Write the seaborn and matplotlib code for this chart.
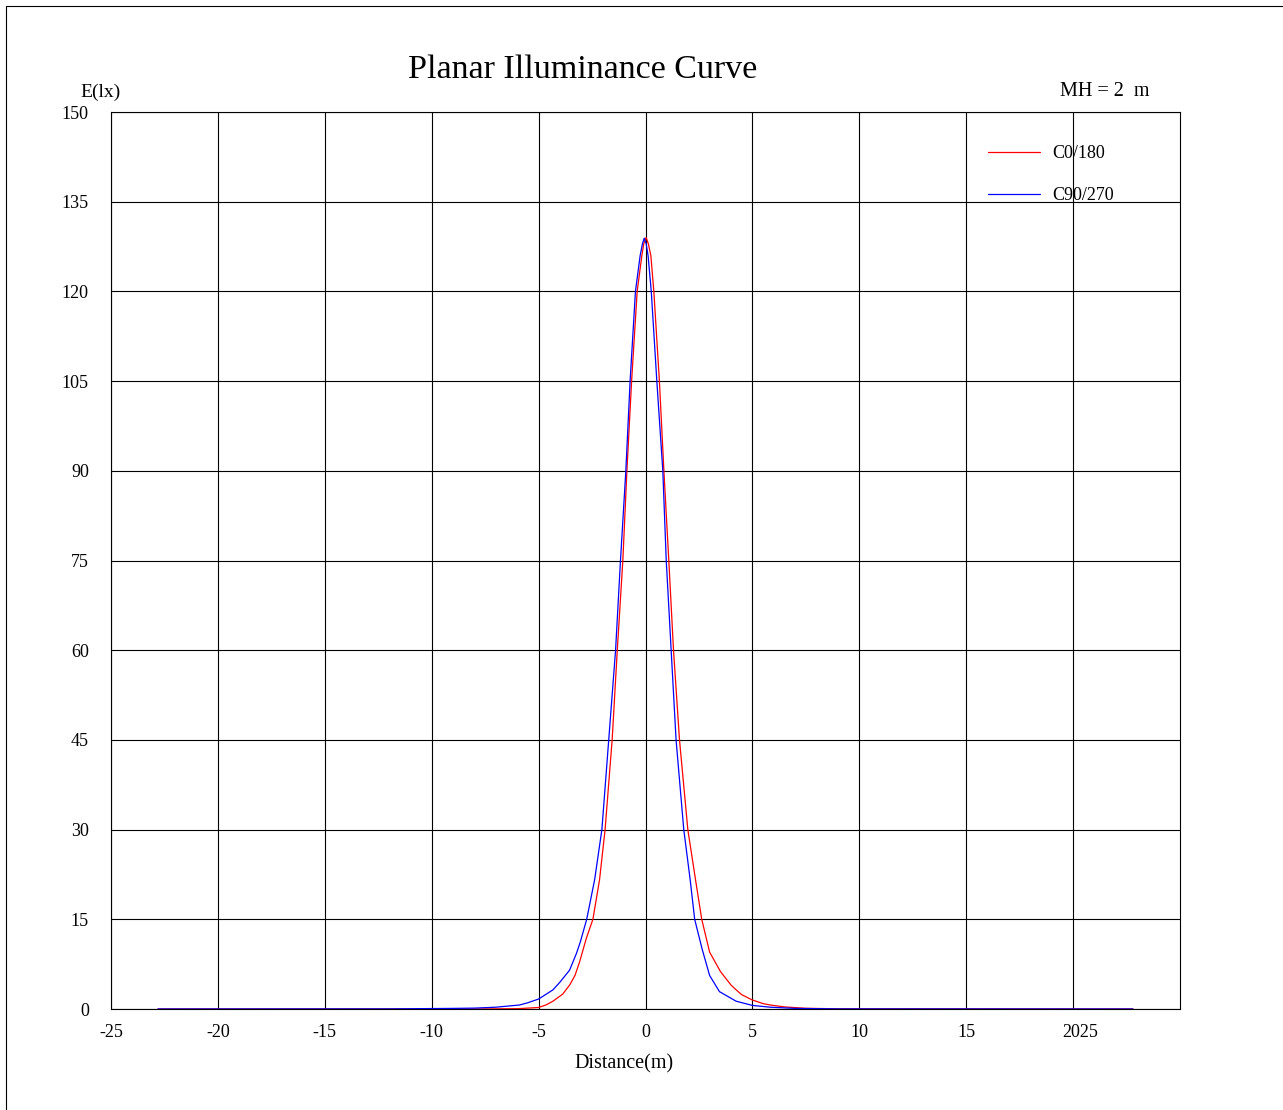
import matplotlib
matplotlib.use("Agg")
import matplotlib.pyplot as plt
import matplotlib.transforms as mtransforms
from matplotlib.lines import Line2D
import seaborn as sns
import pandas as pd

# values
c0_x = [-22.8, -8.0, -6.0, -5.0, -4.64, -4.33, -3.87, -3.55, -3.3, -3.08, -2.77, -2.46,
        -2.15, -1.89, -1.56, -1.32, -1.06, -0.87, -0.65, -0.39, -0.17, -0.08, 0.03,
        0.13, 0.25, 0.39, 0.65, 0.86, 1.09, 1.31, 1.59, 1.98, 2.34, 2.63, 3.0, 3.5,
        4.0, 4.24, 4.5, 5.0, 5.5, 5.83, 6.5, 7.5, 9.0, 22.8]
c0_y = [0, 0, 0.05, 0.25, 0.7, 1.3, 2.5, 4.0, 5.6, 7.9, 11.8, 15,
        21.6, 30, 45, 60, 75, 90, 105, 120, 126, 128, 129,
        128, 126, 120, 105, 90, 75, 60, 45, 30, 21.6, 15, 9.5, 6.3,
        4.0, 3.2, 2.4, 1.5, 0.9, 0.67, 0.35, 0.12, 0.03, 0]

c90_x = [-22.8, -12.0, -9.0, -8.0, -7.0, -5.89, -5.5, -5.0, -4.33, -4.0, -3.55, -3.23,
         -3.05, -2.75, -2.38, -2.04, -1.72, -1.40, -1.17, -0.92, -0.72, -0.47, -0.25,
         -0.14, -0.06, 0.03, 0.12, 0.27, 0.53, 0.81, 0.97, 1.2, 1.43, 1.79, 2.09, 2.3,
         2.65, 3.0, 3.46, 4.24, 5.0, 5.83, 7.0, 9.0, 22.8]
c90_y = [0, 0.02, 0.1, 0.15, 0.3, 0.67, 1.05, 1.67, 3.2, 4.5, 6.5, 9.3,
         11.2, 15, 21.6, 30, 45, 60, 75, 90, 105, 120, 126,
         128, 128.9, 128, 126, 120, 105, 90, 75, 60, 45, 30, 21.6, 15,
         10, 5.6, 2.9, 1.3, 0.6, 0.3, 0.1, 0.02, 0]

x_ticks = [-25, -20, -15, -10, -5, 0, 5, 10, 15, 20]
x_labels = ["-25", "-20", "-15", "-10", "-5", "0", "5", "10", "15", "2025"]
y_ticks = [0, 15, 30, 45, 60, 75, 90, 105, 120, 135, 150]

df = pd.concat([
    pd.DataFrame({"Distance": c0_x, "E": c0_y, "curve": "C0/180"}),
    pd.DataFrame({"Distance": c90_x, "E": c90_y, "curve": "C90/270"}),
])

sns.set_style("white")
plt.rcParams["font.family"] = ["Liberation Serif", "DejaVu Serif"]
plt.rcParams["text.color"] = "black"
plt.rcParams["xtick.color"] = "black"
plt.rcParams["ytick.color"] = "black"

fig = plt.figure(figsize=(12.83, 11.10), dpi=100)
ax = fig.add_axes([111 / 1283, 1 - 1009 / 1110, 1069 / 1283, 897 / 1110])

sns.lineplot(data=df, x="Distance", y="E", hue="curve", sort=False,
             palette={"C0/180": "#ff0000", "C90/270": "#0000ff"},
             linewidth=0.9, ax=ax, estimator=None)

ax.set_xlim(-25, 25)
ax.set_ylim(0, 150)
ax.set_xticks(x_ticks)
ax.set_xticklabels(x_labels)
ax.set_yticks(y_ticks)
ax.tick_params(axis="x", length=0, pad=11, labelsize=13)
ax.tick_params(axis="y", length=0, pad=16, labelsize=13)
# the "2025" label sits a bit right of its tick
lbl = ax.get_xticklabels()[-1]
lbl.set_transform(lbl.get_transform() + mtransforms.ScaledTranslation(7 / 100, 0, fig.dpi_scale_trans))

ax.grid(True, color="black", linewidth=0.8)
for s in ax.spines.values():
    s.set_color("black")
    s.set_linewidth(0.8)
ax.set_xlabel("")
ax.set_ylabel("")

leg = ax.legend(loc="upper left", bbox_to_anchor=(0.82, 0.963), frameon=False,
                fontsize=13, handlelength=2.9, labelspacing=1.4,
                borderpad=0, borderaxespad=0, handletextpad=0.7)

fig.text(583 / 1283, 1 - 70 / 1110, "Planar Illuminance Curve", ha="center", va="center", fontsize=24.5)
fig.text(80 / 1283, 1 - 92 / 1110, "E(lx)", ha="left", va="center", fontsize=14)
fig.text(1150 / 1283, 1 - 92 / 1110, "MH = 2  m", ha="right", va="center", fontsize=14.5)
fig.text(624 / 1283, 1 - 1064 / 1110, "Distance(m)", ha="center", va="center", fontsize=14.5)

# outer frame of the page
fig.add_artist(Line2D([6 / 1283, 6 / 1283], [0, 1 - 6 / 1110], color="black", linewidth=0.8))
fig.add_artist(Line2D([6 / 1283, 1], [1 - 6 / 1110, 1 - 6 / 1110], color="black", linewidth=0.8))

fig.savefig("out.png", dpi=100)
